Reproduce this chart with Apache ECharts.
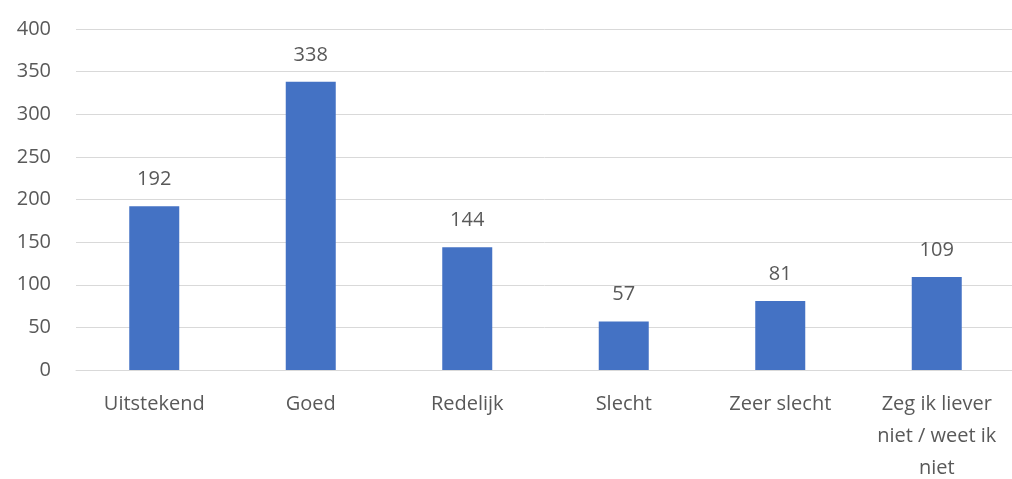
<!DOCTYPE html>
<html>
<head>
<meta charset="utf-8">
<script src="https://cdn.jsdelivr.net/npm/echarts@6/dist/echarts.min.js"></script>
<style>
  html, body { margin: 0; padding: 0; background: #fff; }
  #chart { width: 1012px; height: 479px; }
</style>
</head>
<body>
<div id="chart"></div>
<script>
// data
const categories = ['Uitstekend', 'Goed', 'Redelijk', 'Slecht', 'Zeer slecht', 'Zeg ik liever\nniet / weet ik\nniet'];
const counts = [192, 338, 144, 57, 81, 109];
const yTicks = [0, 50, 100, 150, 200, 250, 300, 350, 400];

const textColor = '#595959';
const fontFam = '"Open Sans", "Liberation Sans", sans-serif';

let myChart = echarts.init(document.getElementById('chart'));
myChart.setOption({
  animation: false,
  grid: {
    left: 76,
    right: -3,
    top: 29,
    bottom: 109,
    containLabel: false,
    outerBoundsMode: 'none'
  },
  xAxis: {
    type: 'category',
    data: categories,
    axisLine: { show: true, lineStyle: { color: '#d9d9d9', width: 1 } },
    axisTick: { show: false },
    axisLabel: {
      color: textColor,
      fontSize: 20,
      fontFamily: fontFam,
      lineHeight: 32,
      margin: 18,
      interval: 0
    }
  },
  yAxis: {
    type: 'value',
    min: yTicks[0],
    max: yTicks[yTicks.length - 1],
    interval: 50,
    axisLine: { show: false },
    axisTick: { show: false },
    splitLine: { lineStyle: { color: '#d9d9d9', width: 1 } },
    axisLabel: {
      color: textColor,
      fontSize: 20,
      fontFamily: fontFam,
      margin: 25
    }
  },
  series: [{
    type: 'bar',
    data: counts,
    barWidth: 50,
    itemStyle: { color: '#4472C4' },
    label: {
      show: true,
      position: 'top',
      distance: 17,
      color: textColor,
      fontSize: 20,
      fontFamily: fontFam
    }
  }]
});
</script>
</body>
</html>
